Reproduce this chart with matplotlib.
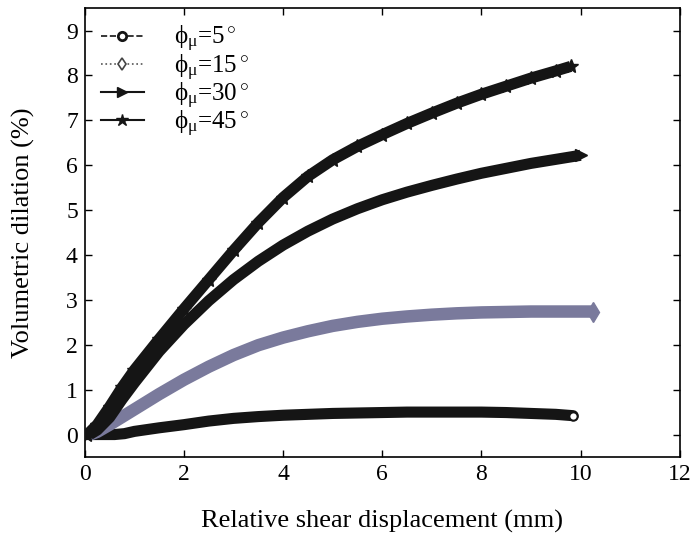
import matplotlib
matplotlib.use("Agg")
import matplotlib.pyplot as plt

plt.rcParams['font.family'] = ['Liberation Serif', 'DejaVu Serif']
plt.rcParams['mathtext.fontset'] = 'custom'
plt.rcParams['mathtext.rm'] = 'Liberation Serif'
plt.rcParams['mathtext.it'] = 'Liberation Serif:italic'

# phi_mu = 5 deg
x5 = [0.0, 0.3, 0.6, 0.8, 1.0, 1.5, 2.0, 2.5, 3.0, 3.5, 4.0, 4.5, 5.0, 5.5, 6.0, 6.5, 7.0, 7.5, 8.0, 8.5, 9.0, 9.5, 9.85]
y5 = [0.0, 0.0, 0.0, 0.02, 0.07, 0.15, 0.22, 0.30, 0.36, 0.40, 0.43, 0.45, 0.47, 0.48, 0.49, 0.50, 0.50, 0.50, 0.50, 0.49, 0.47, 0.45, 0.42]
# phi_mu = 15 deg
x15 = [0.1, 0.25, 0.5, 1.0, 1.5, 2.0, 2.5, 3.0, 3.5, 4.0, 4.5, 5.0, 5.5, 6.0, 6.5, 7.0, 7.5, 8.0, 8.5, 9.0, 9.5, 10.0, 10.25]
y15 = [0.0, 0.06, 0.22, 0.56, 0.90, 1.22, 1.51, 1.77, 1.99, 2.16, 2.30, 2.42, 2.51, 2.58, 2.63, 2.67, 2.70, 2.72, 2.73, 2.74, 2.74, 2.74, 2.74]
# phi_mu = 30 deg
x30 = [0.1, 0.25, 0.5, 0.75, 1.0, 1.5, 2.0, 2.5, 3.0, 3.5, 4.0, 4.5, 5.0, 5.5, 6.0, 6.5, 7.0, 7.5, 8.0, 8.5, 9.0, 9.5, 10.0]
y30 = [0.0, 0.10, 0.38, 0.78, 1.15, 1.85, 2.45, 2.98, 3.45, 3.86, 4.22, 4.53, 4.80, 5.03, 5.23, 5.40, 5.55, 5.69, 5.82, 5.93, 6.04, 6.13, 6.22]
# phi_mu = 45 deg
x45 = [0.05, 0.25, 0.5, 0.75, 1.0, 1.5, 2.0, 2.5, 3.0, 3.5, 4.0, 4.5, 5.0, 5.5, 6.0, 6.5, 7.0, 7.5, 8.0, 8.5, 9.0, 9.5, 9.8]
y45 = [0.0, 0.22, 0.62, 1.05, 1.44, 2.13, 2.80, 3.45, 4.10, 4.72, 5.28, 5.75, 6.12, 6.42, 6.68, 6.93, 7.16, 7.38, 7.58, 7.76, 7.94, 8.10, 8.20]

labels = ['\u03d5$_\\mathregular{μ}$=5$^\\circ$', '\u03d5$_\\mathregular{μ}$=15$^\\circ$',
          '\u03d5$_\\mathregular{μ}$=30$^\\circ$', '\u03d5$_\\mathregular{μ}$=45$^\\circ$']
xticks = [0, 2, 4, 6, 8, 10, 12]
yticks = [0, 1, 2, 3, 4, 5, 6, 7, 8, 9]

dark = '#151515'
grey = '#7a7a9c'

fig = plt.figure(figsize=(6.95, 5.37), dpi=100)
ax = fig.add_axes([0.122, 0.149, 0.856, 0.836])

# thick bands (dense marker curves)
ax.plot(x5, y5, color=dark, lw=8, solid_capstyle='round', solid_joinstyle='round', zorder=2)
ax.plot(x15, y15, color=grey, lw=9, solid_capstyle='butt', solid_joinstyle='round', zorder=2)
ax.plot(x30, y30, color=dark, lw=8, solid_capstyle='butt', solid_joinstyle='round', zorder=3)
ax.plot(x45, y45, color=dark, lw=8, solid_capstyle='butt', solid_joinstyle='round', zorder=4)
ax.plot(x45, y45, ls='none', marker='*', ms=10, color=dark, zorder=4)
ax.plot([x30[-1]], [y30[-1]], ls='none', marker='>', ms=9, color=dark, zorder=3)
ax.plot([x15[-1]], [y15[-1]], ls='none', marker='d', ms=10, color=grey, zorder=2)
ax.plot([x5[-1]], [y5[-1]], ls='none', marker='o', ms=6, mfc='white', mec=dark, mew=1.5, zorder=5)

# legend handles
h1, = ax.plot([], [], ls='--', lw=1.2, color=dark, marker='o', ms=6, mfc='white', mec=dark, mew=2)
h2, = ax.plot([], [], ls=':', lw=1.2, color='#555555', marker='d', ms=6, mfc='white', mec='#444444', mew=1.2)
h3, = ax.plot([], [], ls='-', lw=1.5, color=dark, marker='>', ms=7, mfc=dark, mec=dark)
h4, = ax.plot([], [], ls='-', lw=1.5, color=dark, marker='*', ms=9, mfc=dark, mec=dark)
ax.legend([h1, h2, h3, h4], labels, loc='upper left', frameon=False, fontsize=18,
          handlelength=1.7, labelspacing=-0.08, borderaxespad=0.2, handletextpad=1.2,
          borderpad=0.45)

ax.set_xlim(0, 12)
ax.set_ylim(-0.5, 9.5)
ax.set_xticks(xticks)
ax.set_yticks(yticks)
ax.tick_params(direction='in', top=True, right=True, labelsize=17, length=5, width=1, pad=5)
for s in ax.spines.values():
    s.set_linewidth(1.2)
ax.set_xlabel('Relative shear displacement (mm)', fontsize=19, labelpad=18)
ax.set_ylabel('Volumetric dilation (%)', fontsize=19, labelpad=22)

fig.savefig('out.png', dpi=100)
